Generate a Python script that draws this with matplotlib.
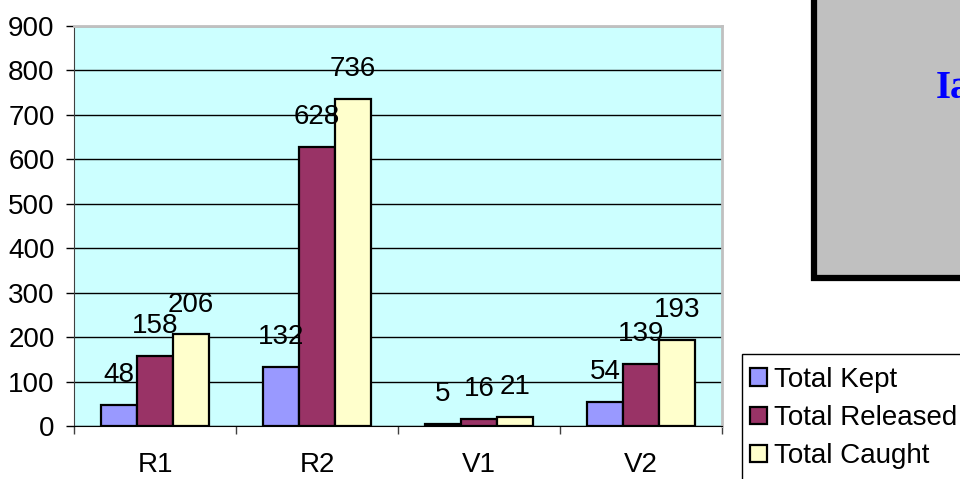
import numpy as np
import matplotlib
matplotlib.use('Agg')
import matplotlib.pyplot as plt
from matplotlib.patches import Rectangle

categories = ['R1', 'R2', 'V1', 'V2']
total_kept = [48, 132, 5, 54]
total_released = [158, 628, 16, 139]
total_caught = [206, 736, 21, 193]
series_names = ['Total Kept', 'Total Released', 'Total Caught']
series_colors = ['#9999FF', '#993366', '#FFFFCC']
y_ticks = [0, 100, 200, 300, 400, 500, 600, 700, 800, 900]

plt.rcParams['font.family'] = ['Liberation Sans', 'DejaVu Sans']

W, H = 960, 479
fig = plt.figure(figsize=(W / 100, H / 100), dpi=100)
ax = fig.add_axes([74 / W, 1 - 426 / H, (722 - 74) / W, (426 - 26) / H])
ax.set_facecolor('#CCFFFF')

x = np.arange(len(categories))
bw = 36 / 162
series = [total_kept, total_released, total_caught]
handles = []
for i, (vals, name, col) in enumerate(zip(series, series_names, series_colors)):
    b = ax.bar(x + (i - 1) * bw, vals, bw, color=col, edgecolor='black',
               linewidth=1.6, label=name, zorder=3)
    handles.append(b)
    for xi, v in zip(x + (i - 1) * bw, vals):
        ax.annotate(str(v), (xi, v), xytext=(0, 16.5), textcoords='offset points',
                    ha='center', va='baseline', fontsize=20, zorder=4)

ax.set_xlim(-0.5, 3.5)
ax.set_ylim(0, 900)
ax.set_yticks(y_ticks)
ax.tick_params(axis='y', labelsize=20, length=6, width=1, direction='out', pad=8)
ax.set_xticks(x)
ax.set_xticklabels(categories)
ax.tick_params(axis='x', which='major', length=0, labelsize=20, pad=19)
ax.set_xticks(np.arange(-0.5, 4, 1), minor=True)
ax.tick_params(axis='x', which='minor', length=6, width=1, color='#404040')
ax.yaxis.grid(True, color='black', linewidth=1)
ax.set_axisbelow(True)
for s in ['top', 'right']:
    ax.spines[s].set_color('#C0C0C0')
    ax.spines[s].set_linewidth(2)
ax.spines['left'].set_color('#404040')
ax.spines['bottom'].set_color('black')

# grey title box at top right
fig.patches.append(Rectangle((814 / W, 1 - 278 / H), 0.3, 0.7, transform=fig.transFigure,
                             facecolor='#C0C0C0', edgecolor='black', linewidth=4.5))
fig.text(936 / W, 1 - 98 / H, 'Ia', color='#0000FF', fontsize=28, fontweight='bold',
         family=['Liberation Serif', 'DejaVu Serif'], ha='left', va='baseline')

# legend frame and legend
fig.patches.append(Rectangle((742 / W, -0.1), 0.3, 0.1 + (479 - 354) / H,
                             transform=fig.transFigure, facecolor='white',
                             edgecolor='black', linewidth=1))
fig.legend(handles=handles, labels=series_names, loc='upper left',
           bbox_to_anchor=(750 / W, 1 - 367 / H), frameon=False, fontsize=20,
           handlelength=0.6, handleheight=0.6, handletextpad=0.25,
           labelspacing=0.44, borderpad=0, borderaxespad=0)

fig.savefig('out.png', dpi=100)
